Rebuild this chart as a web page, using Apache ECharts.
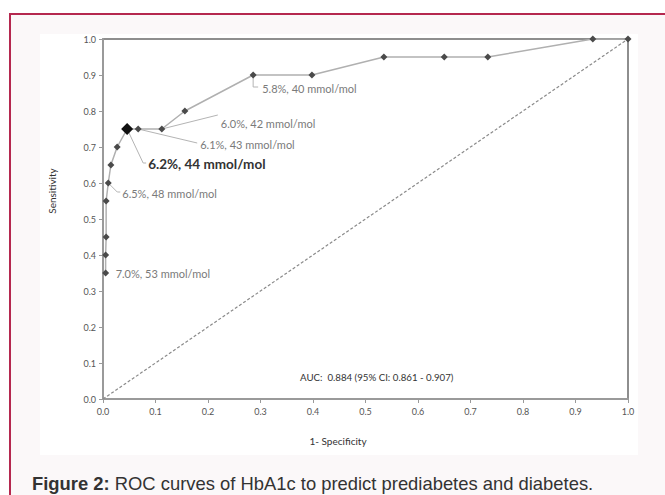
<!DOCTYPE html>
<html>
<head>
<meta charset="utf-8">
<script src="https://cdn.jsdelivr.net/npm/echarts@6/dist/echarts.min.js"></script>
<style>
  html, body { margin: 0; padding: 0; background: #ffffff; width: 665px; height: 495px; overflow: hidden; }
  #frame { position: absolute; left: 9px; top: 13px; width: 660px; height: 490px;
           border-left: 2px solid #b5284f; border-top: 2px solid #b5284f; background: #fbf8f9; }
  #plotbg { position: absolute; left: 40px; top: 34px; width: 598px; height: 421px; background: #ffffff; }
  #chart { position: absolute; left: 0; top: 0; width: 665px; height: 495px; }
</style>
</head>
<body>
<div id="frame"></div>
<div id="plotbg"></div>
<div id="chart"></div>
<script>
// ROC curve points (1 - specificity, sensitivity)
const fpr = [0.005, 0.005, 0.006, 0.006, 0.010, 0.015, 0.027, 0.046, 0.067, 0.112, 0.156, 0.286, 0.398, 0.535, 0.650, 0.733, 0.933, 1.0];
const tpr = [0.35, 0.40, 0.45, 0.55, 0.60, 0.65, 0.70, 0.75, 0.75, 0.75, 0.80, 0.90, 0.90, 0.95, 0.95, 0.95, 1.0, 1.0];
const optimalIndex = 7;
// reference diagonal
const diagX = [0, 1];
const diagY = [0, 1];
// axis ticks
const tickValues = [0, 0.1, 0.2, 0.3, 0.4, 0.5, 0.6, 0.7, 0.8, 0.9, 1.0];
// cut-off annotations: point index and text
const cutIndex = [11, 9, 8, 7, 4, 0];
const cutText = ['5.8%, 40 mmol/mol', '6.0%, 42 mmol/mol', '6.1%, 43 mmol/mol', '6.2%, 44 mmol/mol', '6.5%, 48 mmol/mol', '7.0%, 53 mmol/mol'];
const aucText = 'AUC:  0.884 (95% CI: 0.861 - 0.907)';
const xTitle = '1- Specificity';
const yTitle = 'Sensitivity';
const captionBold = 'Figure 2:';
const captionRest = ' ROC curves of HbA1c to predict prediabetes and diabetes.';

// label placement (offsets in px from the point): leader polyline + text anchor
const labelLayout = [
  { pts: [[0,0],[0,12],[5,12]], tx: 9, ty: 13, bold: false },
  { pts: [[0,0],[56,-14]], tx: 59, ty: -6, bold: false },
  { pts: [[0,0],[59,14]], tx: 62, ty: 15, bold: false },
  { pts: [[0,0],[16,34],[19,34]], tx: 21, ty: 35, bold: true },
  { pts: [[0,0],[9,9],[12,9]], tx: 14, ty: 10, bold: false },
  { pts: null, tx: 10, ty: 0, bold: false }
];

const FONT = 'Lato, "Open Sans", sans-serif';
const CAPFONT = '"Liberation Sans", Arial, sans-serif';
const chart = echarts.init(document.getElementById('chart'), null, { renderer: 'svg' });

const rocData = fpr.map((x, i) => {
  const d = { value: [x, tpr[i]] };
  if (i === optimalIndex) {
    d.symbolSize = 12;
    d.itemStyle = { color: '#111' };
  }
  return d;
});

const axisCommon = {
  type: 'value', min: 0, max: 1, interval: 0.1,
  axisLine: { show: true, lineStyle: { color: '#9a9a9a', width: 2 } },
  axisTick: { show: true, length: 4, lineStyle: { color: '#9a9a9a', width: 1 } },
  splitLine: { show: false },
  axisLabel: { color: '#555', fontFamily: FONT, fontSize: 9, formatter: v => v.toFixed(1) }
};

chart.setOption({
  animation: false,
  backgroundColor: 'transparent',
  title: {
    left: 27, top: 469,
    text: '{b|' + captionBold + '}{r|' + captionRest + '}',
    textStyle: {
      fontWeight: 'normal',
      rich: {
        b: { fontFamily: CAPFONT, fontWeight: 'bold', fontSize: 18.4, color: '#333' },
        r: { fontFamily: CAPFONT, fontWeight: 'normal', fontSize: 18.4, color: '#333' }
      }
    }
  },
  grid: { left: 103, right: 37, top: 39, bottom: 96, show: true, borderColor: '#6a6a6a', borderWidth: 1.5, backgroundColor: 'transparent' },
  xAxis: Object.assign({}, axisCommon, { axisLabel: Object.assign({}, axisCommon.axisLabel, { margin: 8 }) }),
  yAxis: Object.assign({}, axisCommon, { axisLabel: Object.assign({}, axisCommon.axisLabel, { margin: 7 }) }),
  series: [
    {
      type: 'line',
      data: diagX.map((x, i) => [x, diagY[i]]),
      symbol: 'none',
      lineStyle: { color: '#8a8a8a', width: 1.2, type: [3, 2] },
      z: 1
    },
    {
      type: 'line',
      data: rocData,
      symbol: 'diamond',
      symbolSize: 7,
      showAllSymbol: true,
      itemStyle: { color: '#4a4a4a' },
      lineStyle: { color: '#b0b0b0', width: 1.5 },
      z: 3
    }
  ]
});

const graphics = [];
cutIndex.forEach((idx, k) => {
  const p = chart.convertToPixel({ gridIndex: 0 }, [fpr[idx], tpr[idx]]);
  const L = labelLayout[k];
  if (L.pts) {
    graphics.push({
      type: 'polyline', silent: true, z: 2,
      shape: { points: L.pts.map(q => [p[0] + q[0], p[1] + q[1]]) },
      style: { stroke: '#b4b4b4', lineWidth: 1, fill: null }
    });
  }
  graphics.push({
    type: 'text', silent: true, z: 5,
    x: p[0] + L.tx, y: p[1] + L.ty,
    style: {
      text: cutText[k],
      fontFamily: FONT,
      fontSize: L.bold ? 13.5 : 11,
      fontWeight: L.bold ? 'bold' : 'normal',
      fill: L.bold ? '#333' : '#7a7a7a',
      align: 'left', verticalAlign: 'middle'
    }
  });
});
graphics.push({
  type: 'text', silent: true, x: 300, y: 377,
  style: { text: aucText, fontFamily: FONT, fontSize: 9.7, fill: '#333', align: 'left', verticalAlign: 'middle' }
});
graphics.push({
  type: 'text', silent: true, x: 338, y: 441,
  style: { text: xTitle, fontFamily: FONT, fontSize: 10, fill: '#333', align: 'center', verticalAlign: 'middle' }
});
graphics.push({
  type: 'text', silent: true, x: 52, y: 191, rotation: Math.PI / 2,
  style: { text: yTitle, fontFamily: FONT, fontSize: 10, fill: '#333', align: 'center', verticalAlign: 'middle' }
});
chart.setOption({ graphic: graphics });
</script>
</body>
</html>
